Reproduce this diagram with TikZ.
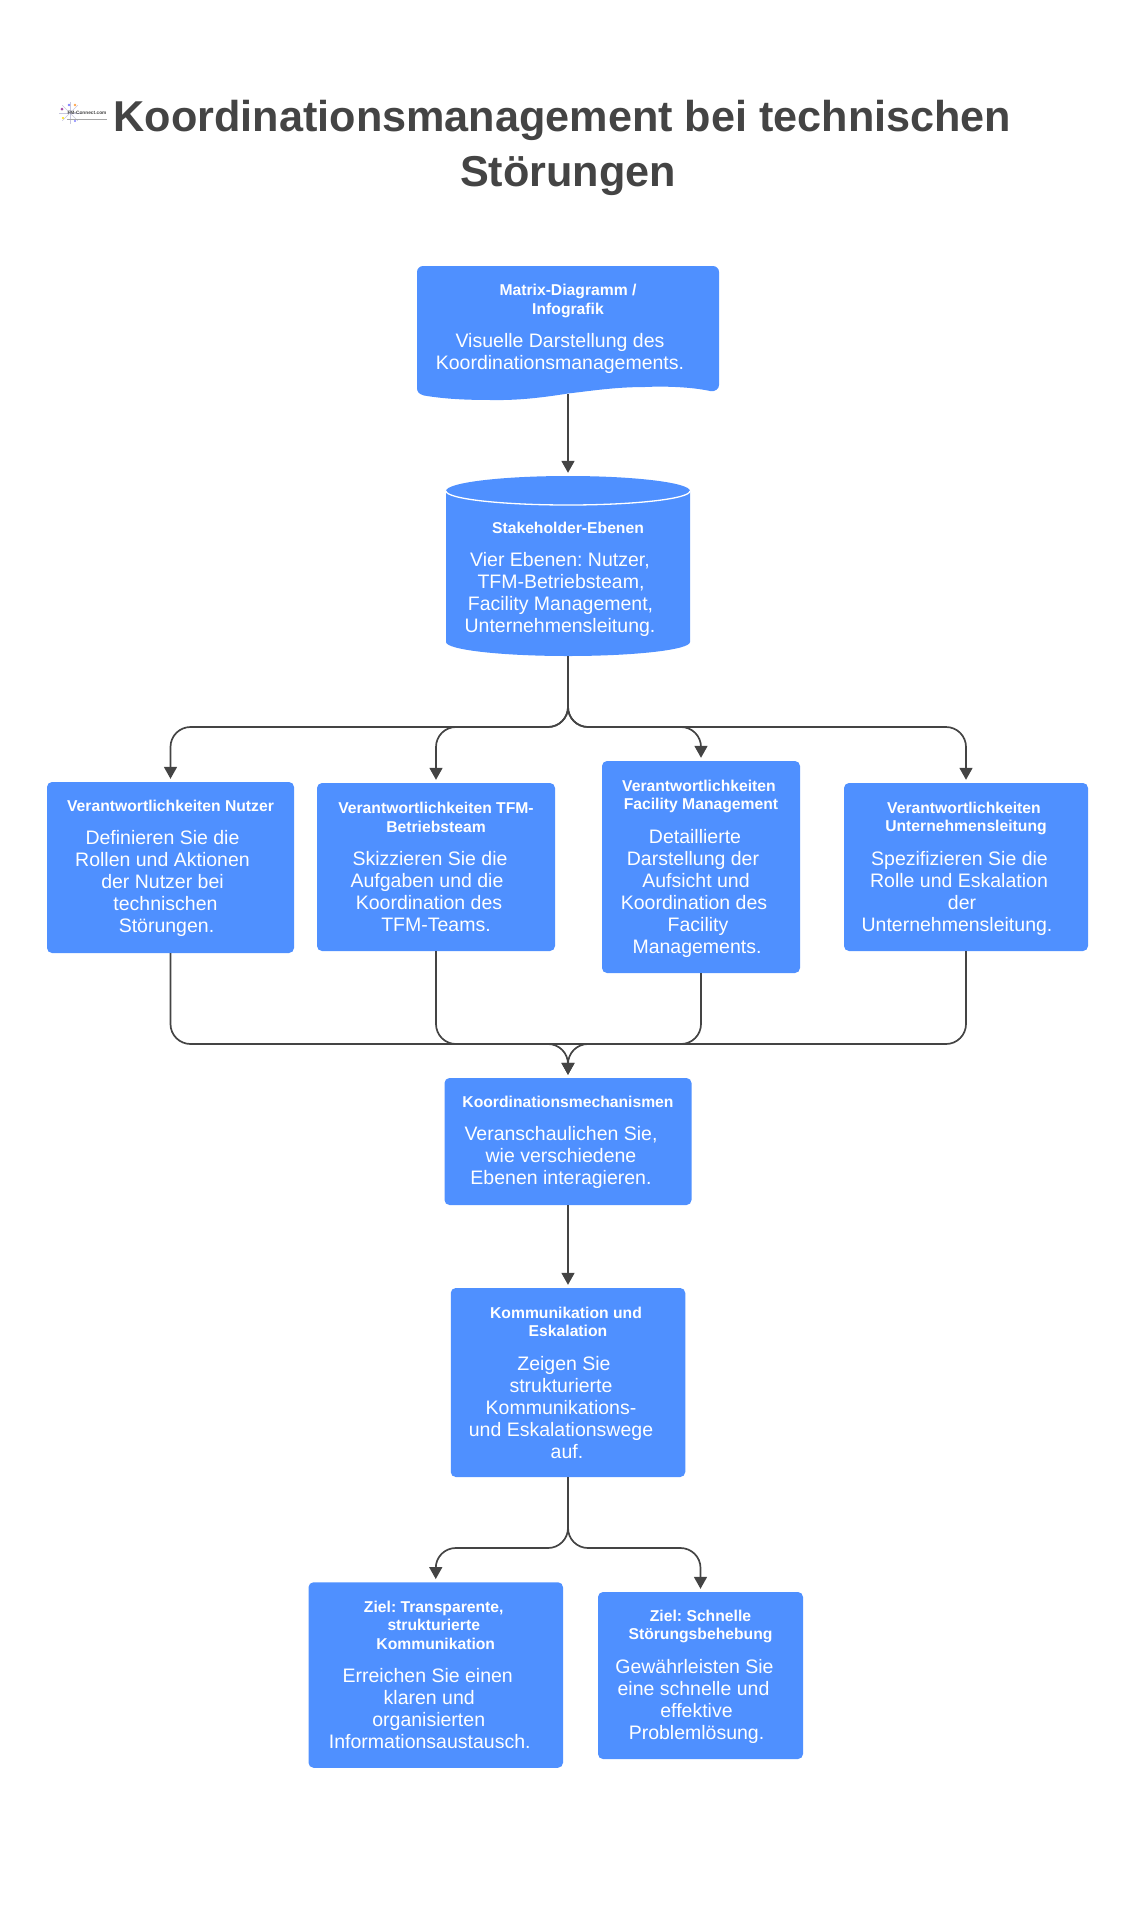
\documentclass[tikz,border=0pt]{standalone}
\usepackage{fontspec}
\setmainfont{Liberation Sans}
\frenchspacing
\usetikzlibrary{arrows.meta}

\definecolor{boxblue}{HTML}{4F90FF}
\definecolor{inkgray}{HTML}{444444}

% Heading lines inside the boxes, and the blank room right of a body line
\newcommand{\boxhead}[1]{{\fontsize{15.7}{22}\selectfont\bfseries #1}}
\newcommand{\trail}[1]{\rule{#1pt}{0pt}}

\tikzset{
  infobox/.style={fill=boxblue, rounded corners=5pt, text=white, align=center, inner sep=0pt,
    font=\fontsize{19.5}{22}\selectfont},
  plainbox/.style={text=white, align=center, inner sep=0pt, font=\fontsize{19.5}{22}\selectfont},
  conn/.style={draw=inkgray, line width=1.7pt, rounded corners=20pt},
  arrowed/.style={conn, -{Triangle[length=12pt, width=13pt]}, shorten >=3pt},
}

\begin{document}
\begin{tikzpicture}[x=1pt, y=-1pt]
  \useasboundingbox (0, 0) rectangle (1137, 1920);

  % Logo
  \foreach \a in {0, 45, ..., 315} {
    \draw[blue!25!gray!35, line width=0.5pt] (70, 113) -- ++(\a:11);
  }
  \fill[violet!70] (62, 109) circle (1.5);
  \fill[blue!50] (69, 105) circle (1.3);
  \fill[orange!70] (75, 105) circle (1.3);
  \fill[yellow!80!orange] (63, 118) circle (1.2);
  \fill[blue!50] (75, 121) circle (1.2);
  \node[text=inkgray, inner sep=0pt, font=\fontsize{4.8}{6}\selectfont\bfseries] (logo) at (87, 113) {FM-Connect.com};
  \fill[gray!70] (67, 118.5) rectangle (107, 119.5);

  % Title
  \node[text=inkgray, align=center, inner sep=0pt, font=\fontsize{43.2}{55}\selectfont\bfseries] (title) at (568, 148)
    {Koordinationsmanagement bei technischen\trail{11}\\St\"orungen};

  % Draw the shapes with their own outline
  \fill[boxblue] (423, 266) -- (713, 266) arc (-90:0:6) -- (719, 385)
    .. controls (719, 389) and (715, 392) .. (710, 391)
    .. controls (692, 387) and (665, 386) .. (645, 387)
    .. controls (615, 387) and (590, 391) .. (568, 393.5)
    .. controls (546, 397) and (520, 400.5) .. (493, 400)
    .. controls (465, 400) and (445, 399) .. (424, 395.5)
    .. controls (419, 394) and (417, 392) .. (417, 388) -- (417, 272) arc (180:270:6) -- cycle;
  \fill[boxblue] (446, 491) arc (180:360:122 and 15) -- (690, 642)
    arc (0:180:122 and 14) -- cycle;
  \draw[white, line width=1.3pt] (446, 491) arc (180:0:122 and 14);

  % Boxes
  \node[plainbox, minimum width=302pt, minimum height=128pt] (matrix) at (568, 330) {
    \boxhead{Matrix-Diagramm /}\\[-3.5pt]
    \boxhead{Infografik}\\[11.5pt]
    Visuelle Darstellung des\trail{16}\\
    Koordinationsmanagements.\trail{16}\\[-16pt]
    \mbox{}};
  \node[plainbox, minimum width=244pt, minimum height=180pt] (stake) at (568, 566) {
    \mbox{}\\[16pt]
    \boxhead{Stakeholder-Ebenen}\\[11.5pt]
    Vier Ebenen: Nutzer,\trail{16}\\
    TFM-Betriebsteam,\trail{14}\\
    Facility Management,\trail{15}\\
    Unternehmensleitung.\trail{16}};

  \node[infobox, minimum width=247pt, minimum height=171pt] (nutzer) at (170.5, 867.5) {
    \rule{0pt}{13.5pt}\boxhead{Verantwortlichkeiten Nutzer}\\[11.5pt]
    Definieren Sie die\trail{16}\\
    Rollen und Aktionen\trail{16}\\
    der Nutzer bei\trail{16}\\
    technischen\trail{10}\\
    St\"orungen.\trail{8}};
  \node[infobox, minimum width=238pt, minimum height=168pt] (tfm) at (436, 867) {
    \boxhead{Verantwortlichkeiten TFM-}\\[-3.5pt]
    \boxhead{Betriebsteam}\\[11.5pt]
    Skizzieren Sie die\trail{12}\\
    Aufgaben und die\trail{18}\\
    Koordination des\trail{14}\\
    TFM-Teams.};
  \node[infobox, minimum width=198pt, minimum height=212pt] (fm) at (701, 867) {
    \rule{0pt}{14.5pt}\boxhead{Verantwortlichkeiten\trail{4}}\\[-3.5pt]
    \boxhead{Facility Management}\\[11.5pt]
    Detaillierte\trail{12}\\
    Darstellung der\trail{16}\\
    Aufsicht und\trail{10}\\
    Koordination des\trail{14}\\
    Facility\trail{6}\\
    Managements.\trail{8}};
  \node[infobox, minimum width=244pt, minimum height=168pt] (leitung) at (966, 867) {
    \rule{0pt}{15pt}\boxhead{Verantwortlichkeiten\trail{4}}\\[-3.5pt]
    \boxhead{Unternehmensleitung}\\[11.5pt]
    Spezifizieren Sie die\trail{13}\\
    Rolle und Eskalation\trail{14}\\
    der\trail{8}\\
    Unternehmensleitung.\trail{18}};

  \node[infobox, minimum width=247pt, minimum height=127pt] (koord) at (568, 1141.5) {
    \rule{0pt}{13.5pt}\boxhead{Koordinationsmechanismen}\\[11.5pt]
    Veranschaulichen Sie,\trail{14}\\
    wie verschiedene\trail{14}\\
    Ebenen interagieren.\trail{14}};
  \node[infobox, minimum width=234.5pt, minimum height=189pt] (komm) at (568, 1382.5) {
    \boxhead{Kommunikation und\trail{4}}\\[-3.5pt]
    \boxhead{Eskalation}\\[11.5pt]
    Zeigen Sie\trail{8}\\
    strukturierte\trail{14}\\
    Kommunikations-\trail{14}\\
    und Eskalationswege\trail{14}\\
    auf.\trail{2}};

  \node[infobox, minimum width=254.5pt, minimum height=185.5pt] (transp) at (435.75, 1675) {
    \boxhead{Ziel: Transparente,\trail{4}}\\[-3.5pt]
    \boxhead{strukturierte\trail{4}}\\[-3.5pt]
    \boxhead{Kommunikation}\\[11.5pt]
    Erreichen Sie einen\trail{16}\\
    klaren und\trail{13}\\
    organisierten\trail{14}\\
    Informationsaustausch.\trail{12}};
  \node[infobox, minimum width=205pt, minimum height=167pt] (schnell) at (700.5, 1675.5) {
    \rule{0pt}{14pt}\boxhead{Ziel: Schnelle}\\[-3.5pt]
    \boxhead{St\"orungsbehebung}\\[11.5pt]
    Gew\"ahrleisten Sie\trail{12}\\
    eine schnelle und\trail{14}\\
    effektive\trail{8}\\
    Probleml\"osung.\trail{8}};

  % Connectors
  \coordinate (split) at (568, 727);
  \coordinate (merge) at (568, 1044);
  \coordinate (fork) at (568, 1548);

  \draw[arrowed] (matrix.south) -- (stake.north);

  \draw[arrowed] (stake.south) -- (split) -| (nutzer.north);
  \draw[arrowed] (stake.south) -- (split) -| (tfm.north);
  \draw[arrowed] (stake.south) -- (split) -| (fm.north);
  \draw[arrowed] (stake.south) -- (split) -| (leitung.north);

  \draw[conn] (tfm.south) |- (merge);
  \draw[conn] (fm.south) |- (merge);
  \draw[arrowed] (nutzer.south) |- (merge) -- (koord.north);
  \draw[arrowed] (leitung.south) |- (merge) -- (koord.north);

  \draw[arrowed] (koord.south) -- (komm.north);

  \draw[arrowed] (komm.south) -- (fork) -| (transp.north);
  \draw[arrowed] (komm.south) -- (fork) -| (schnell.north);
\end{tikzpicture}
\end{document}
